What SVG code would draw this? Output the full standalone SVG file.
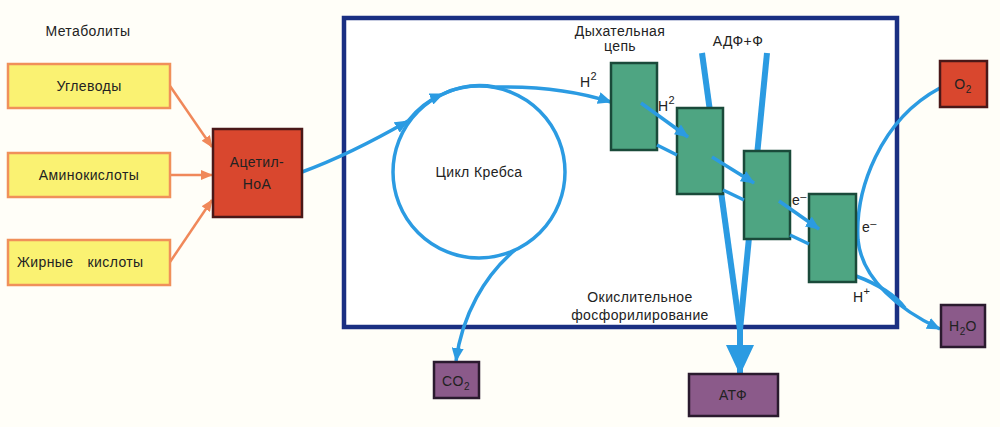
<svg xmlns="http://www.w3.org/2000/svg" width="1000" height="427" viewBox="0 0 1000 427">
<style>
text{font-family:"Liberation Sans","DejaVu Sans",sans-serif;font-size:14px;fill:#222;letter-spacing:0.4px;}
.c{text-anchor:middle;}
.yel{fill:#faf272;stroke:#f0905a;stroke-width:2.5;}
.red{fill:#d9472e;stroke:#4a1818;stroke-width:2.5;}
.grn{fill:#4ea582;stroke:#1a4a3a;stroke-width:2.5;}
.pur{fill:#8b5a8a;stroke:#2a1a2e;stroke-width:2.5;}
.or{stroke:#f0885a;stroke-width:2.5;fill:none;}
.bl{stroke:#2b9be2;stroke-width:3.5;fill:none;}
.blt{stroke:#2b9be2;stroke-width:6;fill:none;}
</style>
<defs>
<marker id="ao" markerWidth="12" markerHeight="10" refX="11" refY="5" orient="auto" markerUnits="userSpaceOnUse"><path d="M0,0 L12,5 L0,10 Z" fill="#f0885a"/></marker>
<marker id="ab" markerWidth="14" markerHeight="12" refX="13" refY="6" orient="auto" markerUnits="userSpaceOnUse"><path d="M0,0 L14,6 L0,12 Z" fill="#2b9be2"/></marker>
<marker id="abig" markerWidth="30" markerHeight="28" refX="29" refY="14" orient="auto" markerUnits="userSpaceOnUse"><path d="M0,0 L30,14 L0,28 Z" fill="#2b9be2"/></marker>
</defs>
<rect width="1000" height="427" fill="#fffef8"/>
<text x="88" y="36" class="c">Метаболиты</text>
<rect x="344" y="18" width="553" height="309" fill="#fff" stroke="#1a2f82" stroke-width="4.5"/>
<g id="connectors">
<path class="or" d="M170,86 L212,147" marker-end="url(#ao)"/>
<path class="or" d="M170,175 L212,175" marker-end="url(#ao)"/>
<path class="or" d="M170,262 L212,200" marker-end="url(#ao)"/>
<circle class="bl" cx="479" cy="172" r="86"/>
<path class="bl" d="M302,172 C340,158 375,140 408,121" marker-end="url(#ab)"/>
<path class="bl" d="M408,121 A86,86 0 0 1 443,94" marker-end="url(#ab)"/>
<path class="bl" d="M443,94 A86,86 0 0 1 495,87 C540,86 580,92 611,102" marker-end="url(#ab)"/>
<path class="bl" d="M515,250 C485,275 462,315 456,361" marker-end="url(#ab)"/>
<path class="blt" d="M702,53 L740,330"/>
<path class="blt" d="M767,53 L740,330"/>
<path class="blt" d="M740,326 L740,374" marker-end="url(#abig)"/>
<path class="bl" d="M940,88 C880,120 855,190 858,240 C862,280 900,310 940,329" marker-end="url(#ab)"/>
<path class="bl" d="M856,276 C880,285 895,295 905,308"/>
</g>
<g id="n-uglevody"><rect class="yel" x="8" y="64" width="162" height="44"/><text x="89" y="91" class="c">Углеводы</text></g>
<g id="n-amino"><rect class="yel" x="8" y="153" width="162" height="44"/><text x="89" y="180" class="c">Аминокислоты</text></g>
<g id="n-zhir"><rect class="yel" x="8" y="240" width="162" height="45"/><text x="17" y="267">Жирные<tspan dx="14">кислоты</tspan></text></g>
<g id="n-acetyl"><rect class="red" x="213" y="129" width="89" height="88"/><text x="257" y="167" class="c">Ацетил-</text><text x="257" y="189" class="c">НоА</text></g>
<g id="n-krebs"><text x="479" y="177" class="c">Цикл Кребса</text></g>
<g id="n-g1"><rect class="grn" x="611" y="63" width="46" height="87"/></g>
<g id="n-g2"><rect class="grn" x="677" y="108" width="46" height="86"/></g>
<g id="n-g3"><rect class="grn" x="744" y="151" width="46" height="88"/></g>
<g id="n-g4"><rect class="grn" x="809" y="194" width="47" height="88"/></g>
<g id="chain-connectors">
<path class="bl" d="M641,103 L688,137" marker-end="url(#ab)"/>
<path class="bl" d="M657,145 L677,155"/>
<path class="bl" d="M712,157 L754,183" marker-end="url(#ab)"/>
<path class="bl" d="M723,190 L744,200"/>
<path class="bl" d="M779,201 L819,229" marker-end="url(#ab)"/>
<path class="bl" d="M790,235 L809,244"/>
</g>
<g id="labels">
<text x="620" y="36" class="c">Дыхательная</text>
<text x="620" y="51" class="c">цепь</text>
<text x="738" y="46" class="c">АДФ+Ф</text>
<text x="580" y="87">H<tspan dy="-7" font-size="11">2</tspan></text>
<text x="658" y="111">H<tspan dy="-7" font-size="11">2</tspan></text>
<text x="792" y="205">e<tspan dy="-5" font-size="11">–</tspan></text>
<text x="862" y="232">e<tspan dy="-5" font-size="11">–</tspan></text>
<text x="853" y="302">H<tspan dy="-7" font-size="11">+</tspan></text>
<text x="640" y="302" class="c">Окислительное</text>
<text x="640" y="320" class="c">фосфорилирование</text>
</g>
<g id="n-co2"><rect class="pur" x="434" y="362" width="45" height="36"/><text x="456" y="386" class="c">CO<tspan dy="4" font-size="10">2</tspan></text></g>
<g id="n-atf"><rect class="pur" x="689" y="374" width="89" height="42"/><text x="733" y="400" class="c">АТФ</text></g>
<g id="n-o2"><rect class="red" x="940" y="61" width="47" height="46"/><text x="963" y="89" class="c">O<tspan dy="4" font-size="10">2</tspan></text></g>
<g id="n-h2o"><rect class="pur" x="941" y="305" width="44" height="42"/><text x="963" y="331" class="c">H<tspan dy="4" font-size="10">2</tspan><tspan dy="-4">O</tspan></text></g>
</svg>
